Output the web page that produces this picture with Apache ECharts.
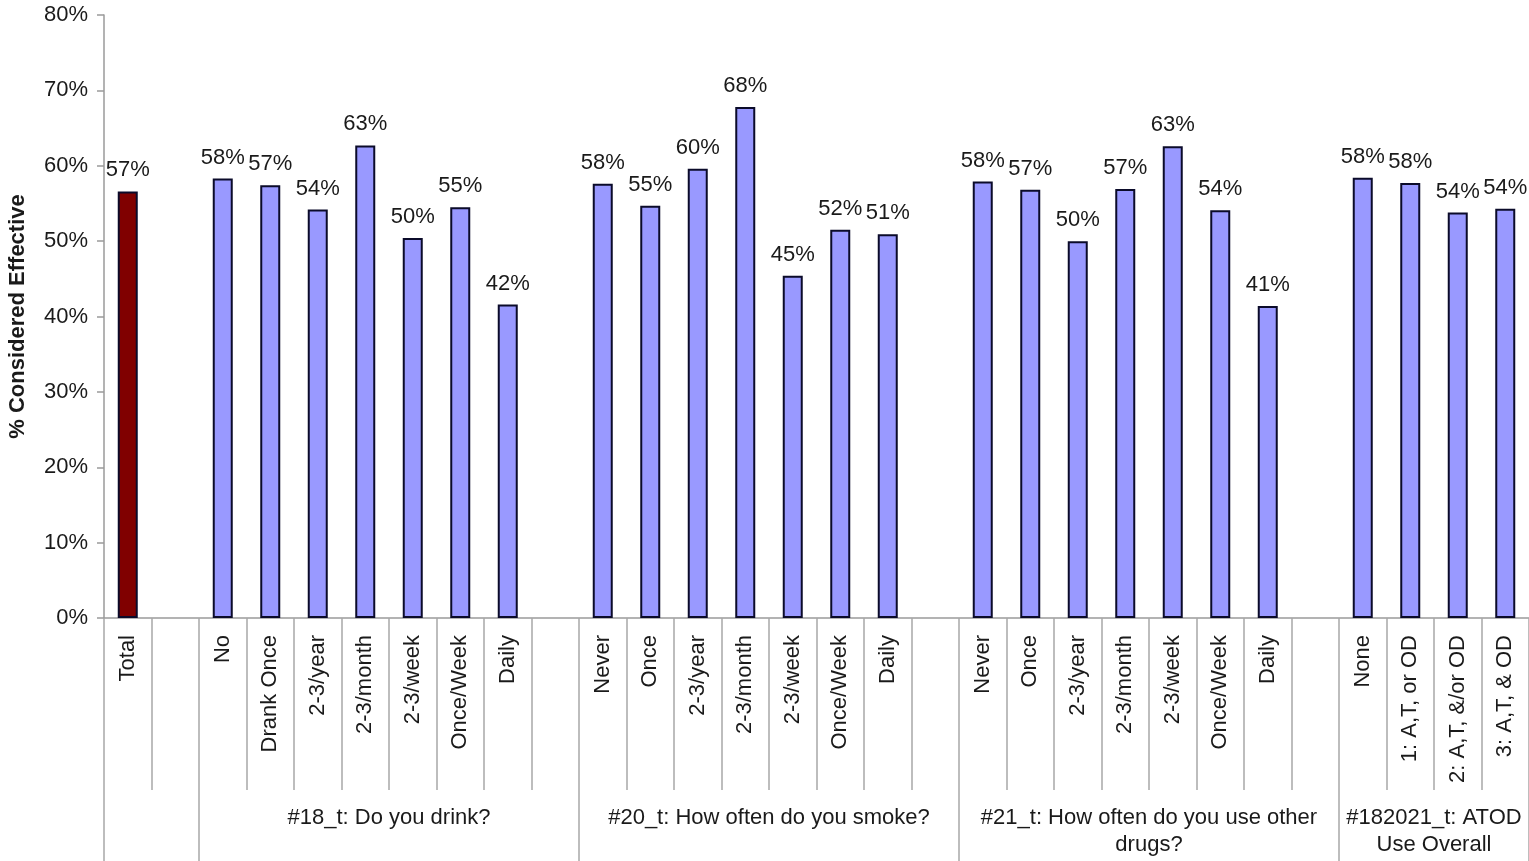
<!DOCTYPE html>
<html>
<head>
<meta charset="utf-8">
<script src="https://cdn.jsdelivr.net/npm/echarts@6/dist/echarts.min.js"></script>
<style>
html,body{margin:0;padding:0;background:#fff;}
#chart{width:1529px;height:861px;}
</style>
</head>
<body>
<div id="chart"></div>
<script>
// Categories (blank strings are the spacer columns between question groups)
const categories = [
  'Total', '',
  'No', 'Drank Once', '2-3/year', '2-3/month', '2-3/week', 'Once/Week', 'Daily', '',
  'Never', 'Once', '2-3/year', '2-3/month', '2-3/week', 'Once/Week', 'Daily', '',
  'Never', 'Once', '2-3/year', '2-3/month', '2-3/week', 'Once/Week', 'Daily', '',
  'None', '1: A,T, or OD', '2: A,T, &/or OD', '3: A,T, & OD'
];
// % considered effective (null = spacer)
const values = [
  56.6, null,
  58.3, 57.4, 54.2, 62.7, 50.4, 54.5, 41.6, null,
  57.6, 54.7, 59.6, 67.8, 45.4, 51.5, 50.9, null,
  57.9, 56.8, 50.0, 56.9, 62.6, 54.1, 41.4, null,
  58.4, 57.7, 53.8, 54.3
];
// Group labels on a half-category grid (61 points, 0..60)
const groupLabels = ['', '#18_t: Do you drink?', '#20_t: How often do you smoke?', '#21_t: How often do you use other\ndrugs?', '#182021_t: ATOD\nUse Overall'];
const groupCenters = [2, 12, 28, 44, 56];
const groupBounds = [0, 4, 20, 36, 52, 60];
const yTicks = [0, 10, 20, 30, 40, 50, 60, 70, 80];

const groupAxisData = [];
for (let i = 0; i <= 60; i++) {
  const k = groupCenters.indexOf(i);
  groupAxisData.push(k >= 0 ? groupLabels[k] : '');
}

const FONT = '"Liberation Sans", Arial, sans-serif';
const TXT = '#1a1a1a';

const chart = echarts.init(document.getElementById('chart'), null, {renderer: 'canvas'});
chart.setOption({
  animation: false,
  backgroundColor: '#ffffff',
  textStyle: {fontFamily: FONT},
  grid: {left: 104, right: 0, top: 15, bottom: 243, containLabel: false, outerBoundsMode: 'none'},
  xAxis: [
    {
      type: 'category',
      data: categories,
      position: 'bottom',
      boundaryGap: true,
      axisLine: {show: true, lineStyle: {color: '#9a9a9a', width: 1.5}},
      axisTick: {show: true, interval: 0, length: 172, lineStyle: {color: '#a8a8a8', width: 1.5}},
      axisLabel: {interval: 0, rotate: 90, margin: 17, fontSize: 22, color: TXT, fontFamily: FONT}
    },
    {
      type: 'category',
      data: groupAxisData,
      position: 'bottom',
      offset: 172,
      boundaryGap: false,
      axisLine: {show: false},
      axisTick: {
        show: true,
        length: 71,
        interval: function (idx) { return groupBounds.indexOf(idx) >= 0; },
        lineStyle: {color: '#a8a8a8', width: 1.5}
      },
      axisLabel: {
        interval: 0, margin: 14, fontSize: 22, lineHeight: 27, color: TXT, fontFamily: FONT,
        align: 'center', verticalAlign: 'top'
      }
    }
  ],
  yAxis: {
    type: 'value',
    min: yTicks[0],
    max: yTicks[yTicks.length - 1],
    interval: 10,
    name: '% Considered Effective',
    nameLocation: 'middle',
    nameRotate: 90,
    nameGap: 75,
    nameTextStyle: {fontSize: 22, fontWeight: 'bold', color: TXT, fontFamily: FONT},
    axisLine: {show: true, lineStyle: {color: '#9a9a9a', width: 1.5}},
    axisTick: {show: true, inside: false, length: 7, lineStyle: {color: '#9a9a9a', width: 1.5}},
    splitLine: {show: false},
    axisLabel: {formatter: '{value}%', margin: 16, fontSize: 22, color: TXT, fontFamily: FONT}
  },
  series: [{
    type: 'bar',
    xAxisIndex: 0,
    data: values,
    barWidth: 20,
    itemStyle: {
      color: function (p) { return categories[p.dataIndex] === 'Total' ? '#800000' : '#9999FF'; },
      borderColor: '#0b0b2a',
      borderWidth: 2
    },
    label: {
      show: true,
      position: 'top',
      distance: 10,
      fontSize: 22,
      color: TXT,
      fontFamily: FONT,
      formatter: function (p) { return p.value == null ? '' : Math.round(p.value) + '%'; }
    }
  }]
});
</script>
</body>
</html>
